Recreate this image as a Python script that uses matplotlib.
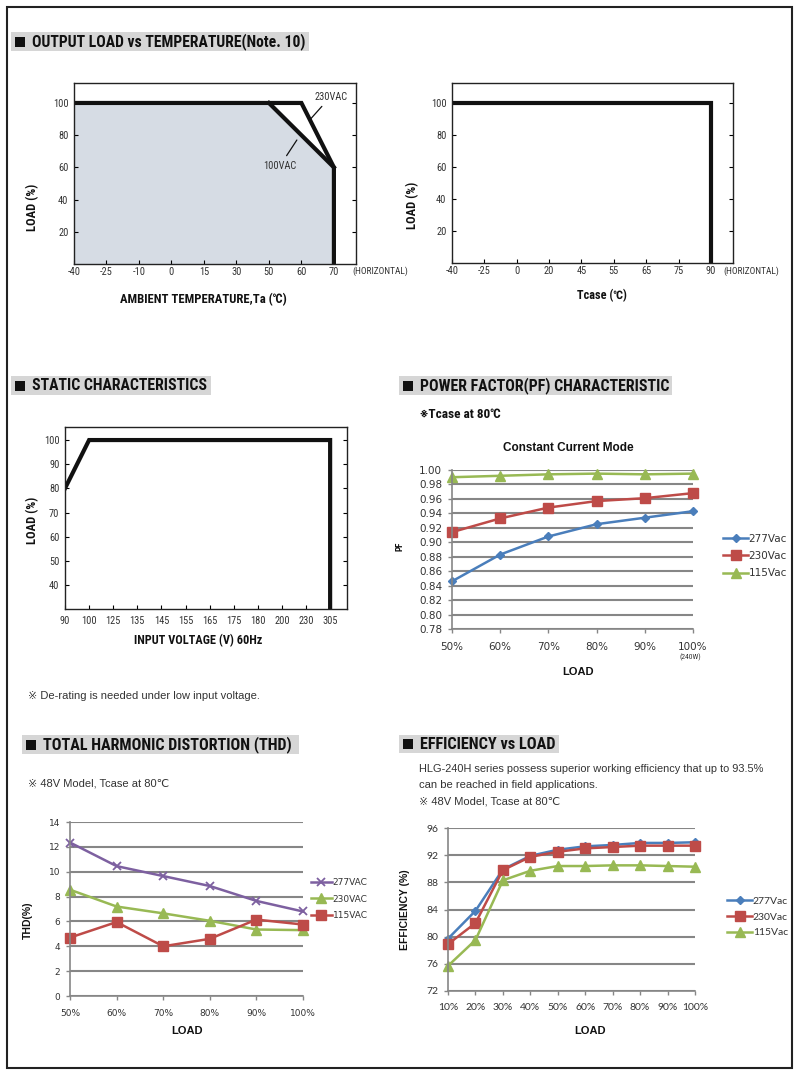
import numpy as np
import matplotlib
matplotlib.use('Agg')
import matplotlib.pyplot as plt
from matplotlib import font_manager as fm
from matplotlib.patches import Rectangle, Polygon

W, H = 801, 1077

# output load vs ambient temperature
temp_ticks = [-40, -25, -10, 0, 15, 30, 50, 60, 70]
ta_230 = [-40, 60, 70, 70]
load_230 = [100, 100, 60, 0]
ta_100 = [50, 70]
load_100 = [100, 60]
load_ticks = [20, 40, 60, 80, 100]

# output load vs Tcase
tcase_ticks = [-40, -25, 0, 20, 45, 55, 65, 75, 90]
tc = [-40, 90, 90]
load_tc = [100, 100, 0]

# static characteristics
vin_ticks = [90, 100, 125, 135, 145, 155, 165, 175, 180, 200, 230, 305]
vin = [90, 100, 305, 305]
load_vin = [80, 100, 100, 30]
static_yticks = [40, 50, 60, 70, 80, 90, 100]

# power factor
pf_load = ['50%', '60%', '70%', '80%', '90%', '100%']
pf_277 = [0.846, 0.883, 0.908, 0.925, 0.934, 0.943]
pf_230 = [0.914, 0.933, 0.948, 0.957, 0.961, 0.968]
pf_115 = [0.990, 0.992, 0.994, 0.995, 0.994, 0.995]

# thd
thd_load = ['50%', '60%', '70%', '80%', '90%', '100%']
thd_277 = [12.35, 10.45, 9.65, 8.85, 7.65, 6.8]
thd_230 = [8.55, 7.2, 6.65, 6.05, 5.35, 5.3]
thd_115 = [4.7, 5.95, 4.0, 4.6, 6.15, 5.75]

# efficiency
eff_load = ['10%', '20%', '30%', '40%', '50%', '60%', '70%', '80%', '90%', '100%']
eff_277 = [79.7, 83.8, 89.9, 91.9, 92.8, 93.3, 93.5, 93.8, 93.8, 93.9]
eff_230 = [78.9, 82.0, 89.8, 91.75, 92.5, 93.0, 93.2, 93.4, 93.4, 93.4]
eff_115 = [75.7, 79.5, 88.3, 89.7, 90.4, 90.4, 90.5, 90.5, 90.4, 90.3]

# pick a narrow sans if one is installed
names = {f.name for f in fm.fontManager.ttflist}
cond = None
for n in ['Liberation Sans Narrow', 'Arial Narrow', 'Roboto Condensed',
          'Open Sans Condensed', 'Nimbus Sans Narrow', 'DejaVu Sans Condensed']:
    if n in names:
        cond = n
        break
if cond is None:
    for n in sorted(names):
        if 'Narrow' in n or 'Condensed' in n:
            cond = n
            break

ARIAL = ['Liberation Sans', 'DejaVu Sans', 'Noto Sans CJK JP']
NARROW = ([cond] if cond else []) + ARIAL
VERD = ['DejaVu Sans']
CAL = ['Lato', 'DejaVu Sans']
plt.rcParams['font.family'] = NARROW

BLUE = '#4a7ebb'
RED = '#be4b48'
GREEN = '#98b954'
PURPLE = '#7d60a0'
GRID = '#868686'
TXT = '#333333'

fig = plt.figure(figsize=(W / 100, H / 100), dpi=100)
fig.patch.set_facecolor('white')
renderer = fig.canvas.get_renderer()


def rect(l, t, r, b):
    return [l / W, 1 - b / H, (r - l) / W, (b - t) / H]


def idx(vals, ticks):
    return np.interp(vals, ticks, np.arange(len(ticks)))


def derating_axes(ax, ticks, yticks):
    ax.set_xticks(range(len(ticks)))
    ax.set_xticklabels([str(t) for t in ticks])
    ax.set_yticks(yticks)
    ax.tick_params(direction='in', length=3, width=0.8, labelsize=7.5,
                   labelcolor=TXT, right=True, pad=2)
    ax.tick_params(axis='y', pad=4)
    for s in ax.spines.values():
        s.set_linewidth(1.0)
        s.set_color('#222222')


# chart 1
ax1 = fig.add_axes(rect(74, 83, 356, 264))
ax1.set_xlim(0, 8.68)
ax1.set_ylim(0, 112.4)
fx = idx([-40, -40, 50, 70, 70], temp_ticks)
ax1.add_patch(Polygon(np.column_stack([fx, [0, 100, 100, 60, 0]]),
                      closed=True, facecolor='#d6dce4', edgecolor='none'))
ax1.plot(idx(ta_230, temp_ticks), load_230, color='#111111', lw=3,
         solid_joinstyle='miter')
ax1.plot(idx(ta_100, temp_ticks), load_100, color='#111111', lw=3)
ax1.annotate('230VAC', xy=(7.28, 90), xytext=(7.9, 104), fontsize=7.5,
             color=TXT, ha='center', va='center',
             arrowprops=dict(arrowstyle='-', color='#111111', lw=0.9,
                             shrinkA=2, shrinkB=0))
ax1.annotate('100VAC', xy=(6.86, 77), xytext=(6.34, 61), fontsize=7.5,
             color=TXT, ha='center', va='center',
             arrowprops=dict(arrowstyle='-', color='#111111', lw=0.9,
                             shrinkA=2, shrinkB=0))
derating_axes(ax1, temp_ticks, load_ticks)

# chart 2
ax2 = fig.add_axes(rect(452, 83, 733, 263))
ax2.set_xlim(0, 8.68)
ax2.set_ylim(0, 112.4)
ax2.plot(idx(tc, tcase_ticks), load_tc, color='#111111', lw=3,
         solid_joinstyle='miter')
derating_axes(ax2, tcase_ticks, load_ticks)

# chart 3
ax3 = fig.add_axes(rect(65, 427, 347, 609))
ax3.set_xlim(0, 11.7)
ax3.set_ylim(30.07, 105.4)
ax3.plot(idx(vin, vin_ticks), load_vin, color='#111111', lw=3,
         solid_joinstyle='miter')
derating_axes(ax3, vin_ticks, static_yticks)
ax3.tick_params(axis='x', pad=5)


def excel_axes(ax, labels, ylim, ystep, fmt, font, size):
    n = len(labels)
    ax.set_xlim(0, n - 1)
    ax.set_ylim(*ylim)
    ax.set_xticks(range(n))
    ax.set_xticklabels(labels, family=font, fontsize=size, color=TXT)
    yt = np.arange(ylim[0], ylim[1] + ystep / 2, ystep)
    ax.set_yticks(yt)
    ax.set_yticklabels([fmt.format(v) for v in yt], family=font,
                       fontsize=size, color=TXT)
    ax.yaxis.grid(True, color=GRID, lw=1.5)
    ax.set_axisbelow(True)
    for k in ('top', 'right'):
        ax.spines[k].set_visible(False)
    for k in ('left', 'bottom'):
        ax.spines[k].set_color(GRID)
        ax.spines[k].set_linewidth(1.2)
    ax.tick_params(direction='out', length=3, width=1, color=GRID, pad=4)
    ax.tick_params(axis='x', pad=6)


def excel_legend(ax, handles, labels, x, y, font, size, spacing):
    ax.legend(handles, labels, loc='center left',
              bbox_to_anchor=(x / W, 1 - y / H), bbox_transform=fig.transFigure,
              frameon=False, prop=dict(family=font, size=size),
              handlelength=2.4, handletextpad=0.05, labelspacing=spacing,
              borderpad=0, labelcolor=TXT)


# chart 4 - power factor
ax4 = fig.add_axes(rect(452, 470, 693, 629))
x4 = np.arange(len(pf_load))
h1, = ax4.plot(x4, pf_277, color=BLUE, lw=1.8, marker='D', ms=4.5)
h2, = ax4.plot(x4, pf_230, color=RED, lw=1.8, marker='s', ms=6.5)
h3, = ax4.plot(x4, pf_115, color=GREEN, lw=1.8, marker='^', ms=7)
for h in (h1, h2, h3):
    h.set_clip_on(False)
excel_axes(ax4, pf_load, (0.78, 1.0), 0.02, '{:.2f}', VERD, 7.5)
excel_legend(ax4, [h1, h2, h3], ['277Vac', '230Vac', '115Vac'],
             718, 556, VERD, 7.5, 0.72)

# chart 5 - thd
ax5 = fig.add_axes(rect(70, 822, 303, 996))
x5 = np.arange(len(thd_load))
g1, = ax5.plot(x5, thd_277, color=PURPLE, lw=1.8, marker='x', ms=6, mew=1.3)
g2, = ax5.plot(x5, thd_230, color=GREEN, lw=1.8, marker='^', ms=6.5)
g3, = ax5.plot(x5, thd_115, color=RED, lw=1.8, marker='s', ms=6.5)
for h in (g1, g2, g3):
    h.set_clip_on(False)
excel_axes(ax5, thd_load, (0, 14), 2, '{:.0f}', VERD, 6.5)
excel_legend(ax5, [g1, g2, g3], ['277VAC', '230VAC', '115VAC'],
             306, 899, VERD, 6.5, 0.8)

# chart 6 - efficiency
ax6 = fig.add_axes(rect(448, 828, 695, 991))
x6 = np.arange(len(eff_load))
e1, = ax6.plot(x6, eff_277, color=BLUE, lw=1.8, marker='D', ms=4.5)
e2, = ax6.plot(x6, eff_230, color=RED, lw=1.8, marker='s', ms=6.5)
e3, = ax6.plot(x6, eff_115, color=GREEN, lw=1.8, marker='^', ms=7)
for h in (e1, e2, e3):
    h.set_clip_on(False)
excel_axes(ax6, eff_load, (72, 96), 4, '{:.0f}', CAL, 7.5)
excel_legend(ax6, [e1, e2, e3], ['277Vac', '230Vac', '115Vac'],
             722, 917, CAL, 7.5, 0.6)

# page overlay: frame, headings, notes
ov = fig.add_axes([0, 0, 1, 1])
ov.set_xlim(0, W)
ov.set_ylim(H, 0)
ov.axis('off')
ov.add_patch(Rectangle((7, 7), 785, 1061, fill=False, lw=1.5,
                       edgecolor='#222222'))


def fit(t, width):
    # shrink a text until it spans the same width as in the datasheet
    w = t.get_window_extent(renderer).width
    if w > width:
        t.set_fontsize(t.get_fontsize() * width / w)


def heading(x0, x1, y0, y1, text, width):
    ov.add_patch(Rectangle((x0, y0), x1 - x0, y1 - y0, color='#d6d6d6', lw=0))
    ym = (y0 + y1) / 2
    ov.add_patch(Rectangle((x0 + 4, ym - 5), 10, 10, color='#111111', lw=0))
    t = ov.text(x0 + 21, ym + 0.5, text, fontsize=12, fontweight='bold',
                color='#111111', ha='left', va='center', family=NARROW)
    fit(t, width)


heading(11, 309, 32, 51, 'OUTPUT LOAD vs TEMPERATURE(Note. 10)', 274)
heading(11, 211, 376, 395, 'STATIC CHARACTERISTICS', 174)
heading(399, 672, 376, 395, 'POWER FACTOR(PF) CHARACTERISTIC', 250)
heading(22, 299, 735, 754, 'TOTAL HARMONIC DISTORTION (THD)', 250)
heading(399, 559, 735, 753, 'EFFICIENCY vs LOAD', 136)


def lbl(x, y, s, size=8, bold=True, rot=0, ha='center', font=NARROW,
        color='#111111', width=None):
    t = ov.text(x, y, s, fontsize=size, fontweight='bold' if bold else 'normal',
                rotation=rot, ha=ha, va='center', family=font, color=color)
    if width:
        fit(t, width)
    return t


lbl(33, 207, 'LOAD (%)', size=9, rot=90)
lbl(203, 300, 'AMBIENT TEMPERATURE,Ta (℃)', size=9.5, width=167)
lbl(352, 271, '(HORIZONTAL)', size=7.5, bold=False, ha='left', color=TXT,
    width=55)
lbl(413, 205, 'LOAD (%)', size=9, rot=90)
lbl(602, 296, 'Tcase (℃)', size=9.5, width=50)
lbl(723, 271, '(HORIZONTAL)', size=7.5, bold=False, ha='left', color=TXT,
    width=55)

lbl(33, 520, 'LOAD (%)', size=9, rot=90)
lbl(198, 641, 'INPUT VOLTAGE (V) 60Hz', size=9.5, width=128)
lbl(28, 696, '※ De-rating is needed under low input voltage.', size=8.5,
    bold=False, ha='left', font=ARIAL, color=TXT, width=230)

lbl(420, 415, '※Tcase at 80℃', size=9.5, ha='left', width=82)
lbl(568, 448, 'Constant Current Mode', size=8.5, font=ARIAL, width=132)
lbl(400, 546, 'PF', size=6.5, rot=90)
lbl(578, 672, 'LOAD', size=8, font=ARIAL)
lbl(690, 657, '(240W)', size=5.5, bold=False, color=TXT)

lbl(28, 783, '※ 48V Model, Tcase at 80℃', size=8.5, bold=False, ha='left',
    font=ARIAL, color=TXT, width=140)
lbl(28, 920, 'THD(%)', size=7.5, rot=90, font=ARIAL)
lbl(187, 1031, 'LOAD', size=8, font=ARIAL)

lbl(419, 769, 'HLG-240H series possess superior working efficiency that up to 93.5%',
    size=8.5, bold=False, ha='left', font=ARIAL, color=TXT, width=344)
lbl(419, 785, 'can be reached in field applications.', size=8.5, bold=False,
    ha='left', font=ARIAL, color=TXT, width=178)
lbl(419, 802, '※ 48V Model, Tcase at 80℃', size=8.5, bold=False, ha='left',
    font=ARIAL, color=TXT, width=140)
lbl(405, 910, 'EFFICIENCY (%)', size=7.5, rot=90, font=ARIAL)
lbl(590, 1031, 'LOAD', size=8, font=ARIAL)

fig.savefig('out.png', dpi=100)
